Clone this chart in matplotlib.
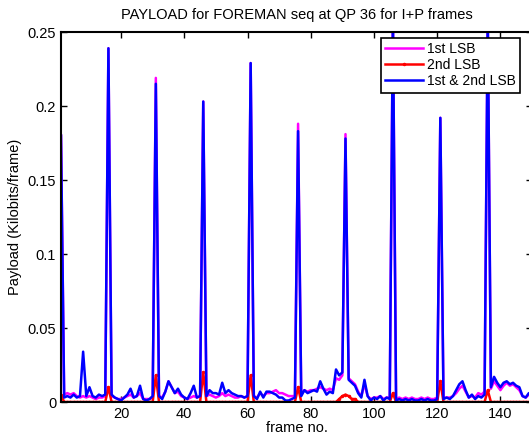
import numpy as np
import matplotlib
matplotlib.use("Agg")
import matplotlib.pyplot as plt

plt.rcParams['font.family'] = ['Liberation Sans', 'DejaVu Sans']

frames = np.arange(1, 151)

# 1st & 2nd LSB (blue)
both_lsb = [
    0.180, 0.003, 0.004, 0.003, 0.005, 0.003, 0.004, 0.034, 0.004, 0.010,
    0.004, 0.003, 0.005, 0.004, 0.005, 0.239, 0.005, 0.003, 0.002, 0.001,
    0.003, 0.005, 0.009, 0.003, 0.004, 0.011, 0.002, 0.001, 0.002, 0.004,
    0.215, 0.004, 0.002, 0.007, 0.014, 0.010, 0.006, 0.009, 0.005, 0.003,
    0.002, 0.006, 0.011, 0.003, 0.004, 0.203, 0.004, 0.008, 0.006, 0.006,
    0.005, 0.013, 0.006, 0.008, 0.006, 0.005, 0.004, 0.004, 0.003, 0.004,
    0.229, 0.004, 0.002, 0.007, 0.003, 0.007, 0.007, 0.006, 0.005, 0.003,
    0.003, 0.001, 0.001, 0.002, 0.003, 0.183, 0.004, 0.008, 0.006, 0.007,
    0.008, 0.007, 0.014, 0.009, 0.005, 0.007, 0.006, 0.022, 0.018, 0.020,
    0.178, 0.015, 0.013, 0.011, 0.006, 0.003, 0.015, 0.004, 0.001, 0.003,
    0.002, 0.004, 0.001, 0.003, 0.002, 0.262, 0.001, 0.002, 0.001, 0.002,
    0.001, 0.002, 0.001, 0.001, 0.002, 0.001, 0.002, 0.001, 0.001, 0.002,
    0.192, 0.002, 0.003, 0.002, 0.004, 0.008, 0.012, 0.014, 0.008, 0.003,
    0.005, 0.002, 0.004, 0.003, 0.005, 0.262, 0.010, 0.017, 0.013, 0.010,
    0.013, 0.014, 0.012, 0.013, 0.011, 0.010, 0.004, 0.003, 0.006, 0.004,
]

# 1st LSB (magenta)
first_lsb = [
    0.180, 0.005, 0.006, 0.005, 0.006, 0.004, 0.003, 0.004, 0.003, 0.004,
    0.003, 0.002, 0.003, 0.003, 0.004, 0.239, 0.004, 0.003, 0.002, 0.002,
    0.003, 0.004, 0.005, 0.003, 0.004, 0.006, 0.002, 0.002, 0.002, 0.003,
    0.219, 0.004, 0.003, 0.007, 0.014, 0.010, 0.006, 0.007, 0.004, 0.003,
    0.002, 0.003, 0.004, 0.003, 0.004, 0.203, 0.004, 0.005, 0.004, 0.003,
    0.004, 0.006, 0.004, 0.005, 0.004, 0.003, 0.003, 0.004, 0.003, 0.004,
    0.229, 0.004, 0.003, 0.006, 0.004, 0.006, 0.006, 0.007, 0.008, 0.006,
    0.006, 0.005, 0.004, 0.004, 0.004, 0.188, 0.005, 0.008, 0.007, 0.008,
    0.008, 0.009, 0.010, 0.009, 0.008, 0.009, 0.008, 0.016, 0.015, 0.018,
    0.181, 0.016, 0.014, 0.012, 0.007, 0.004, 0.012, 0.004, 0.002, 0.003,
    0.003, 0.004, 0.002, 0.003, 0.003, 0.262, 0.002, 0.003, 0.002, 0.003,
    0.002, 0.003, 0.002, 0.002, 0.003, 0.002, 0.003, 0.002, 0.002, 0.003,
    0.192, 0.003, 0.003, 0.003, 0.004, 0.006, 0.009, 0.011, 0.007, 0.003,
    0.004, 0.003, 0.006, 0.005, 0.007, 0.262, 0.009, 0.014, 0.011, 0.008,
    0.011, 0.013, 0.011, 0.012, 0.010, 0.008, 0.004, 0.003, 0.005, 0.004,
]

# 2nd LSB (red)
second_lsb = [
    0.005, 0.000, 0.000, 0.000, 0.000, 0.000, 0.000, 0.000, 0.000, 0.000,
    0.000, 0.000, 0.000, 0.000, 0.000, 0.010, 0.000, 0.000, 0.000, 0.000,
    0.000, 0.000, 0.000, 0.000, 0.000, 0.000, 0.000, 0.000, 0.000, 0.000,
    0.018, 0.000, 0.000, 0.000, 0.000, 0.000, 0.000, 0.000, 0.000, 0.000,
    0.000, 0.000, 0.000, 0.000, 0.000, 0.020, 0.000, 0.000, 0.000, 0.000,
    0.000, 0.000, 0.000, 0.000, 0.000, 0.000, 0.000, 0.000, 0.000, 0.000,
    0.018, 0.000, 0.000, 0.000, 0.000, 0.000, 0.000, 0.000, 0.000, 0.000,
    0.000, 0.000, 0.000, 0.000, 0.000, 0.010, 0.000, 0.000, 0.000, 0.000,
    0.000, 0.000, 0.000, 0.000, 0.000, 0.000, 0.000, 0.000, 0.002, 0.004,
    0.005, 0.004, 0.002, 0.002, 0.000, 0.000, 0.000, 0.000, 0.000, 0.000,
    0.000, 0.000, 0.000, 0.000, 0.000, 0.006, 0.000, 0.000, 0.000, 0.000,
    0.000, 0.000, 0.000, 0.000, 0.000, 0.000, 0.000, 0.000, 0.000, 0.000,
    0.014, 0.000, 0.000, 0.000, 0.000, 0.000, 0.000, 0.000, 0.000, 0.000,
    0.000, 0.000, 0.000, 0.000, 0.000, 0.008, 0.000, 0.000, 0.000, 0.000,
    0.000, 0.000, 0.000, 0.000, 0.000, 0.000, 0.000, 0.000, 0.000, 0.000,
]

fig = plt.figure(figsize=(5.29, 4.41), dpi=100)
ax = fig.add_axes([61 / 529, 39 / 441, 471 / 529, 370 / 441])

ax.plot(frames, first_lsb, color=(1, 0, 1), lw=1.8, label='1st LSB')
ax.plot(frames, second_lsb, color=(1, 0, 0), lw=1.8, marker='.', markersize=3, label='2nd LSB')
ax.plot(frames, both_lsb, color=(0, 0, 1), lw=1.8, label='1st & 2nd LSB')

ax.set_xlim(1, 150)
ax.set_ylim(0, 0.25)
ax.set_xticks(np.arange(20, 150, 20))
ax.set_yticks([0, 0.05, 0.1, 0.15, 0.2, 0.25])
ax.set_yticklabels(['0', '0.05', '0.1', '0.15', '0.2', '0.25'])
ax.tick_params(direction='in', length=4, width=1, labelsize=10.5, top=True, right=True)
for s in ax.spines.values():
    s.set_linewidth(1.5)

ax.set_title('PAYLOAD for FOREMAN seq at QP 36 for I+P frames', fontsize=10.5, pad=9)
ax.set_xlabel('frame no.', fontsize=10.5, labelpad=0)
ax.set_ylabel('Payload (Kilobits/frame)', fontsize=10.5)

leg = ax.legend(loc='upper right', bbox_to_anchor=((520 - 61) / 471, 1 - 6 / 370), fontsize=10,
                fancybox=False, framealpha=1, edgecolor='black', handlelength=2.7,
                borderpad=0.3, labelspacing=0.15, handletextpad=0.3, borderaxespad=0)
leg.get_frame().set_linewidth(1.2)

fig.savefig('out.png', dpi=100)
